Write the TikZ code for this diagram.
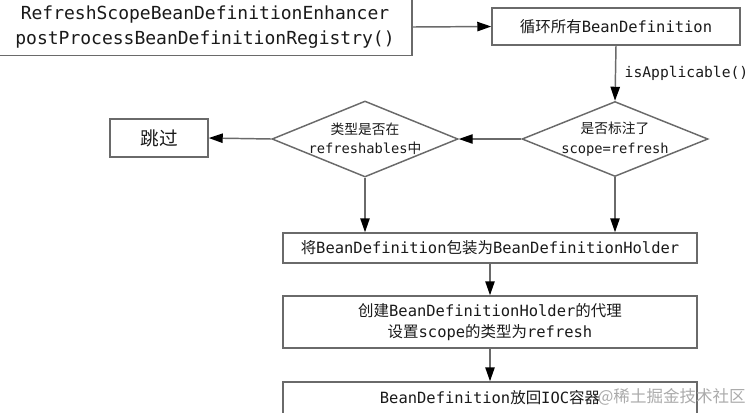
\documentclass[tikz,border=0pt]{standalone}
\usepackage{fontspec}
\setmainfont{DejaVu Sans Mono}
\newfontfamily\cjk{Noto Sans CJK SC}
\usetikzlibrary{arrows.meta,shapes.geometric}
\definecolor{linegray}{HTML}{6A6A6A}
\definecolor{txt}{HTML}{1A1A1A}
\definecolor{wm}{HTML}{ABABAB}
\tikzset{
  box/.style={draw=linegray, line width=1.1pt, fill=white, inner sep=0pt, text=txt, align=center,
    font=\fontsize{11.6}{15.75}\selectfont},
  dia/.style={diamond, draw=linegray, line width=1.1pt, fill=white, inner sep=0pt},
  diatext/.style={inner sep=0pt, text=txt, align=center, font=\fontsize{10.3}{14.5}\selectfont},
  arr/.style={draw=linegray, line width=1.1pt, -{Triangle[length=10.5pt,width=7pt,fill=black,color=black]}},
  sz/.style 2 args={minimum width={#1*0.75pt}, minimum height={#2*0.75pt}},
}
\begin{document}
\begin{tikzpicture}[x=0.75pt,y=-0.75pt]
\useasboundingbox (0,0) rectangle (753,412);
\clip (0,0) rectangle (753,412);
% nodes
\node[box, sz={414}{57}, font=\fontsize{13.5}{18.75}\selectfont] (src) at (205,27)
  {RefreshScopeBeanDefinitionEnhancer\\postProcessBeanDefinitionRegistry()};
\node[box, sz={248}{37}] (loop) at (616,26.5)
  {{\cjk 循环所有}BeanDefinition};
\node[dia, sz={186}{75}] (d1) at (615,139) {};
\node[diatext] (d1t) at (d1.center) {{\cjk 是否标注了}\\scope=refresh};
\node[dia, sz={186}{76}] (d2) at (365,139) {};
\node[diatext] (d2t) at (d2.center) {{\cjk 类型是否在}\\refreshables{\cjk 中}};
\node[box, sz={98}{38}, font=\fontsize{14}{16}\selectfont] (skip) at (159,138)
  {\cjk 跳过};
\node[box, sz={414}{30}] (wrap) at (490,248)
  {{\cjk 将}BeanDefinition{\cjk 包装为}BeanDefinitionHolder};
\node[box, sz={414}{52}] (proxy) at (490,322)
  {{\cjk 创建}BeanDefinitionHolder{\cjk 的代理}\\{\cjk 设置}scope{\cjk 的类型为}refresh};
\node[box, sz={414}{32}] (back) at (490,398)
  {BeanDefinition{\cjk 放回}IOC{\cjk 容器}};
% connectors
\draw[arr] (src.east) -- (loop.west);
\draw[arr] (loop.south) -- node[right, text=txt, font=\fontsize{11}{13}\selectfont, xshift=3pt] (lbl) {isApplicable()} (d1.north);
\draw[arr] (d1.west) -- (d2.east);
\draw[arr] (d2.west) -- (skip.east);
\draw[arr] (d2.south) -- (d2.south |- wrap.north);
\draw[arr] (d1.south) -- (d1.south |- wrap.north);
\draw[arr] (wrap.south) -- (proxy.north);
\draw[arr] (proxy.south) -- (back.north);
% watermark
\node[anchor=east, text=wm, font=\cjk\fontsize{12.4}{15}\selectfont, inner sep=0pt] (wmk) at (746,397) {@稀土掘金技术社区};
\end{tikzpicture}
\end{document}
